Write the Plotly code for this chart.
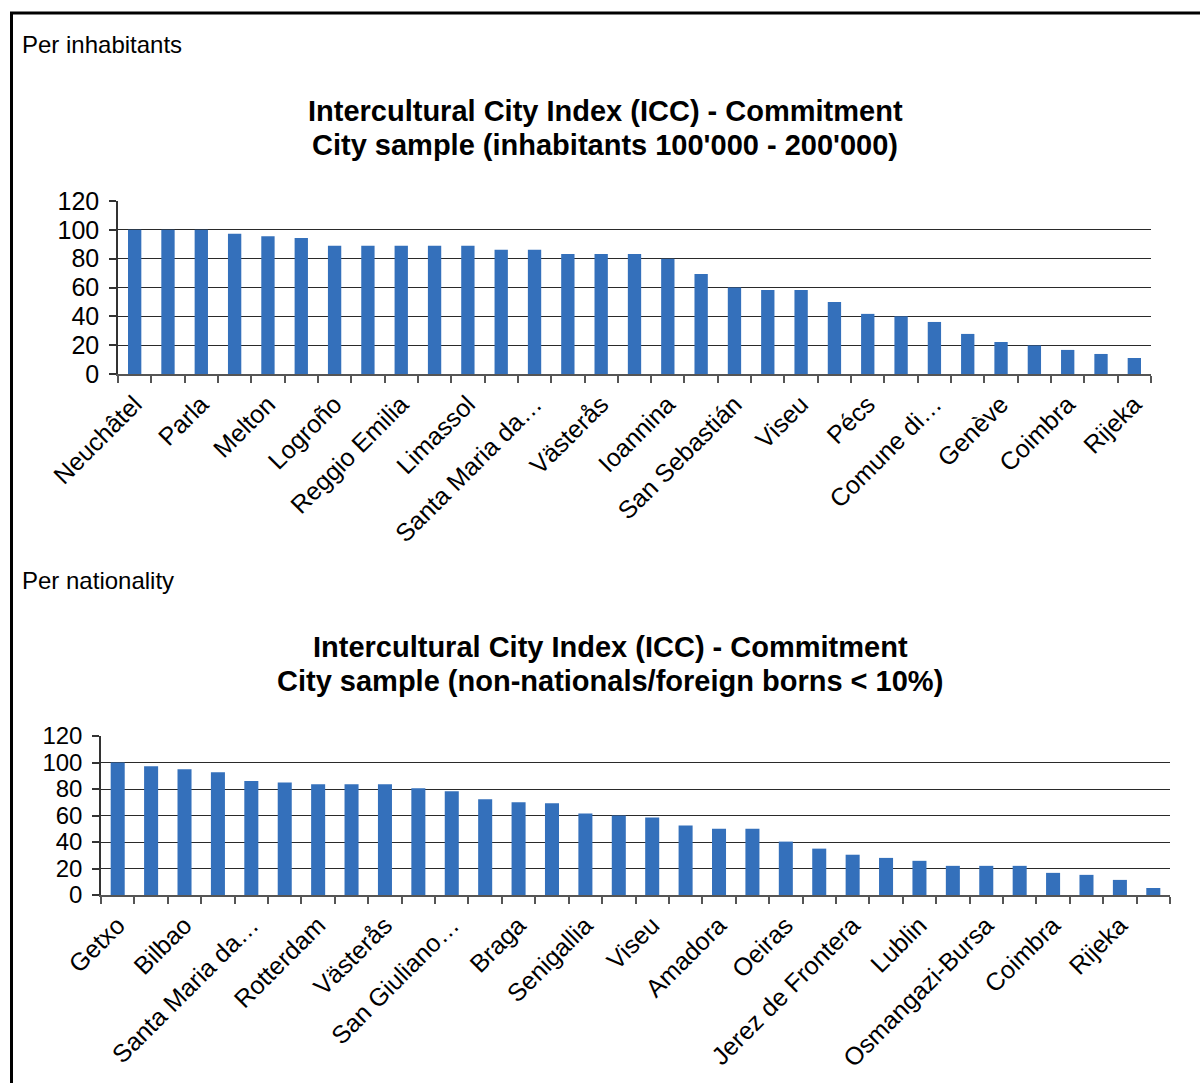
import plotly.graph_objects as go

# Commitment scores, cities ordered by score (labels appear on every other bar)
top_values = [100, 100, 100, 97.2, 95.5, 94.4, 88.9, 88.9, 88.9, 88.9, 88.9,
              86.1, 86.1, 83.3, 83.3, 83.3, 80.0, 69.4, 60.0, 58.3, 58.3,
              50.0, 41.7, 40.0, 36.1, 27.8, 22.2, 19.8, 16.7, 13.9, 11.1]
top_labels = ["Neuchâtel", "Parla", "Melton", "Logroño", "Reggio Emilia",
              "Limassol", "Santa Maria da…", "Västerås", "Ioannina",
              "San Sebastián", "Viseu", "Pécs", "Comune di…", "Genève",
              "Coimbra", "Rijeka"]

bottom_values = [100, 97.2, 94.9, 92.7, 86.0, 85.0, 83.6, 83.6, 83.6, 80.6,
                 78.3, 72.2, 70.0, 69.2, 61.6, 60.0, 58.5, 52.4, 50.0, 50.0,
                 40.3, 35.0, 30.4, 28.0, 25.8, 22.0, 22.0, 22.0, 16.7, 15.2,
                 11.4, 5.3]
bottom_labels = ["Getxo", "Bilbao", "Santa Maria da…", "Rotterdam", "Västerås",
                 "San Giuliano…", "Braga", "Senigallia", "Viseu", "Amadora",
                 "Oeiras", "Jerez de Frontera", "Lublin", "Osmangazi-Bursa",
                 "Coimbra", "Rijeka"]

y_ticks = [0, 20, 40, 60, 80, 100, 120]

W, H = 1200, 1083
FONT = "Liberation Sans, Arial, sans-serif"
BAR_COLOR = "#3470BB"


def px_x(p):
    return p / W


def px_y(p):
    return 1 - p / H


fig = go.Figure()

fig.add_trace(go.Bar(x=list(range(len(top_values))), y=top_values,
                     marker=dict(color=BAR_COLOR, line=dict(width=0)),
                     width=0.4, xaxis="x", yaxis="y", showlegend=False))
fig.add_trace(go.Bar(x=list(range(len(bottom_values))), y=bottom_values,
                     marker=dict(color=BAR_COLOR, line=dict(width=0)),
                     width=0.42, xaxis="x2", yaxis="y2", showlegend=False))


def x_axis(n, labels, domain, anchor):
    return dict(domain=domain, anchor=anchor, range=[-0.5, n - 0.5],
                automargin=False,
                tickmode="array", tickvals=[2 * i for i in range(len(labels))],
                ticktext=labels, tickangle=-45, ticks="",
                ticklabelstandoff=4,
                tickfont=dict(family=FONT, size=25, color="#000"),
                showline=True, linecolor="#555", linewidth=1.5,
                showgrid=False, zeroline=False,
                minor=dict(tickmode="linear", tick0=-0.5, dtick=1,
                           ticks="outside", ticklen=7, tickcolor="#555",
                           tickwidth=1.5, showgrid=False))


def y_axis(domain, anchor, size):
    return dict(domain=domain, anchor=anchor, range=[0, 120],
                automargin=False,
                tickmode="array", tickvals=y_ticks,
                ticks="outside", ticklen=7, tickcolor="#333", tickwidth=1.5,
                ticklabelstandoff=5,
                tickfont=dict(family=FONT, size=size, color="#000"),
                showline=True, linecolor="#333", linewidth=1.5,
                showgrid=True, gridcolor="#2a2a2a", gridwidth=1.4,
                zeroline=False)


fig.update_layout(
    width=W, height=H,
    margin=dict(l=0, r=0, t=0, b=0, autoexpand=False),
    paper_bgcolor="white", plot_bgcolor="white",
    bargap=0.6,
    xaxis=x_axis(len(top_values), top_labels, [px_x(118), px_x(1151)], "y"),
    yaxis=y_axis([px_y(374), px_y(201)], "x", 25),
    xaxis2=x_axis(len(bottom_values), bottom_labels, [px_x(101), px_x(1170)], "y2"),
    yaxis2=y_axis([px_y(895), px_y(736)], "x2", 24),
)

annotations = [
    dict(text="Per inhabitants", x=px_x(20), y=px_y(44), xanchor="left",
         yanchor="middle", font=dict(family=FONT, size=24)),
    dict(text="Per nationality", x=px_x(20), y=px_y(580), xanchor="left",
         yanchor="middle", font=dict(family=FONT, size=24)),
    dict(text="<b>Intercultural City Index (ICC) - Commitment</b>", x=px_x(605),
         y=px_y(111), xanchor="center", yanchor="middle",
         font=dict(family=FONT, size=29)),
    dict(text="<b>City sample (inhabitants 100'000 - 200'000)</b>", x=px_x(605),
         y=px_y(145), xanchor="center", yanchor="middle",
         font=dict(family=FONT, size=29)),
    dict(text="<b>Intercultural City Index (ICC) - Commitment</b>", x=px_x(610),
         y=px_y(647), xanchor="center", yanchor="middle",
         font=dict(family=FONT, size=29)),
    dict(text="<b>City sample (non-nationals/foreign borns < 10%)</b>", x=px_x(610),
         y=px_y(681), xanchor="center", yanchor="middle",
         font=dict(family=FONT, size=29)),
]
for a in annotations:
    a.update(xref="paper", yref="paper", showarrow=False)
    a["font"].setdefault("color", "#000")
fig.update_layout(annotations=annotations)

# frame along the top and left edges
fig.add_shape(type="line", xref="paper", yref="paper",
              x0=px_x(10), x1=1, y0=px_y(13), y1=px_y(13),
              line=dict(color="#000", width=3))
fig.add_shape(type="line", xref="paper", yref="paper",
              x0=px_x(11.5), x1=px_x(11.5), y0=px_y(12), y1=0,
              line=dict(color="#000", width=3))

fig.write_html("out.html")
